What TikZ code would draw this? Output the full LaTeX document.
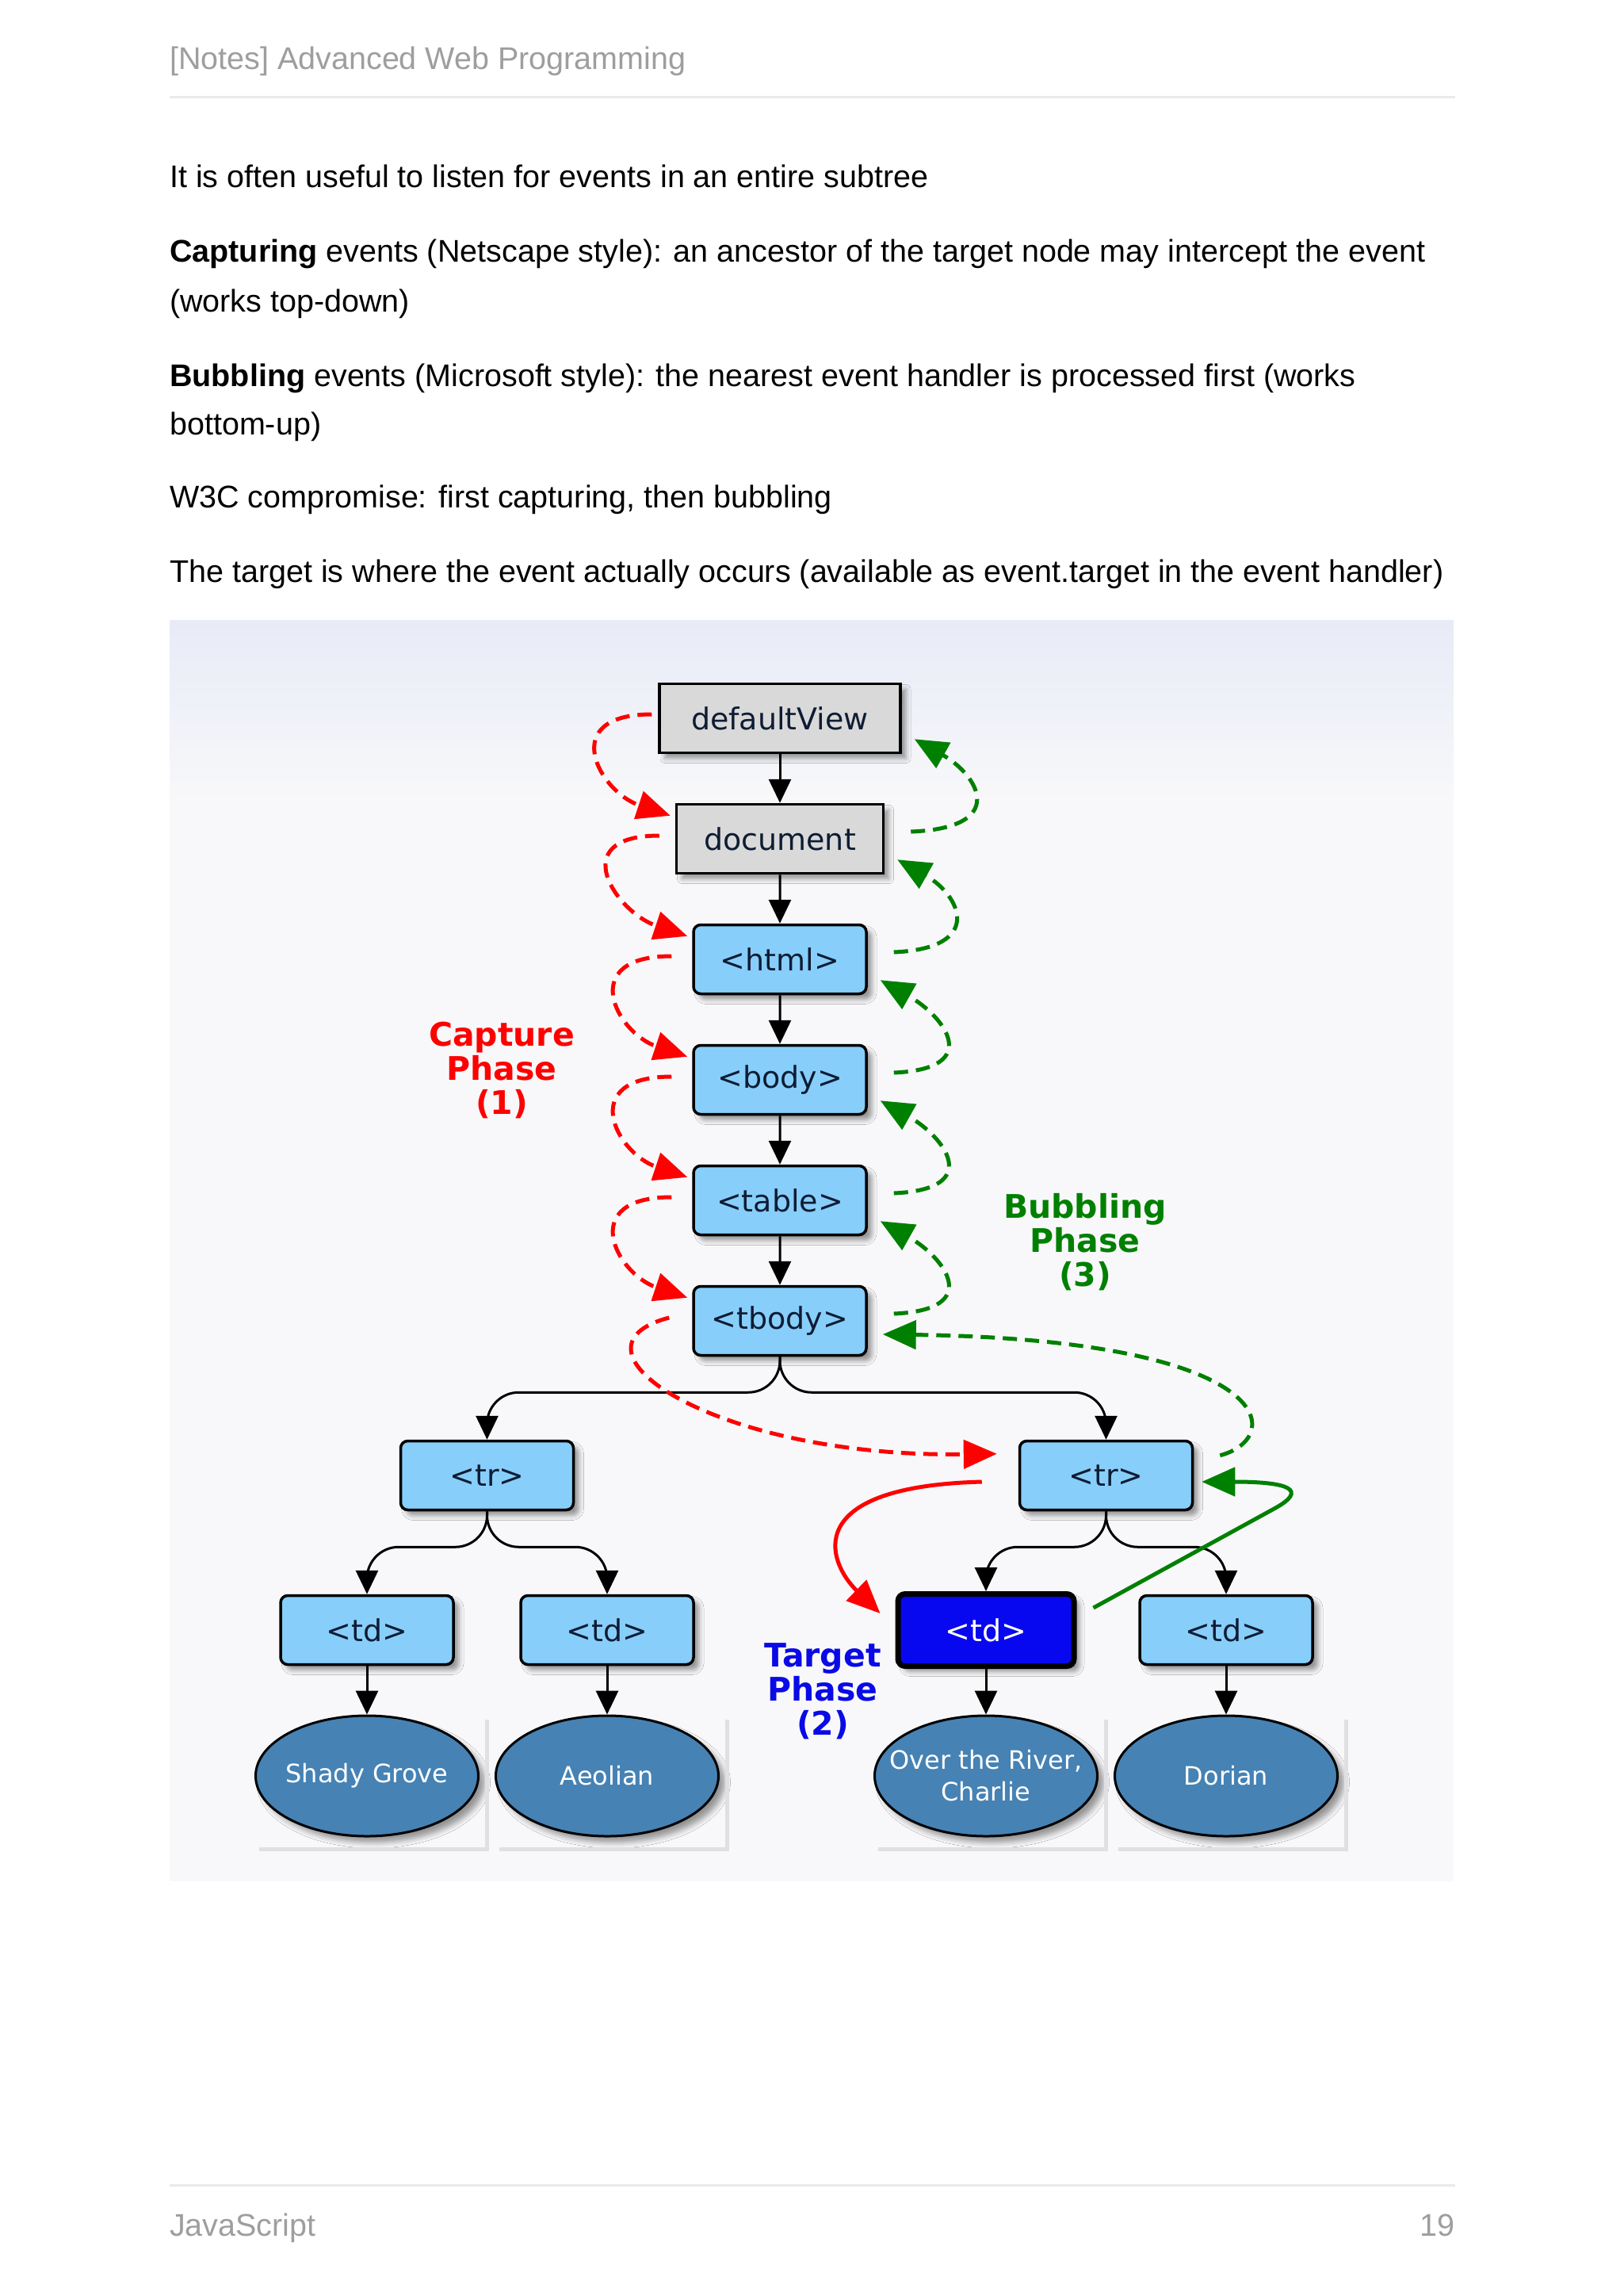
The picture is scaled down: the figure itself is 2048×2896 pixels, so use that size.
\documentclass[tikz,border=0pt]{standalone}
\usepackage{fontspec}
\setmainfont{Liberation Sans}
\newfontfamily\diagfont{DejaVu Sans}
\usetikzlibrary{positioning, calc, shapes.geometric, arrows.meta, shadows.blur}

\definecolor{headgray}{RGB}{158,158,158}
\definecolor{rulegray}{RGB}{234,234,237}
\definecolor{bgtop}{RGB}{232,235,247}
\definecolor{bgbottom}{RGB}{248,248,250}
\definecolor{docgray}{RGB}{217,217,217}
\definecolor{tagblue}{RGB}{135,206,250}
\definecolor{leafblue}{RGB}{70,130,180}
\definecolor{targetfill}{RGB}{8,8,240}
\definecolor{capred}{RGB}{255,0,0}
\definecolor{bubgreen}{RGB}{0,128,0}
\definecolor{targetblue}{RGB}{10,10,230}
\definecolor{inkblue}{RGB}{14,28,52}
\definecolor{framegray}{RGB}{224,224,228}

\newcommand{\bodysize}{\fontsize{39.5pt}{47pt}\selectfont}
\newcommand{\tagsize}{\diagfont\fontsize{38pt}{44pt}\selectfont}
\newcommand{\leafsize}{\diagfont\fontsize{32pt}{40pt}\selectfont}
\newcommand{\phasesize}{\diagfont\bfseries\fontsize{41pt}{43pt}\selectfont}

\begin{document}
\begin{tikzpicture}[
  x=1pt,
  y=-1pt,
  grow=down,
  level distance=152pt,
  pagetext/.style={
    anchor=base west,
    inner sep=0pt,
    font=\bodysize,
  },
  headtext/.style={pagetext, text=headgray},
  docbox/.style={
    rectangle,
    draw=black,
    line width=3.5pt,
    fill=docgray,
    minimum height=87pt,
    inner sep=0pt,
    font=\tagsize,
    text=inkblue,
    blur shadow={shadow xshift=7pt, shadow yshift=-7pt, shadow blur radius=6pt},
  },
  tagbox/.style={
    docbox,
    rounded corners=9pt,
    fill=tagblue,
    minimum width=218pt,
  },
  targetbox/.style={
    tagbox,
    line width=7pt,
    fill=targetfill,
    text=white,
    minimum width=222pt,
    minimum height=91pt,
  },
  leaf/.style={
    ellipse,
    draw=black,
    line width=3pt,
    fill=leafblue,
    align=center,
    inner xsep=-32pt,
    inner ysep=0pt,
    minimum width=281pt,
    minimum height=152pt,
    font=\leafsize,
    text=white,
    blur shadow={shadow xshift=8pt, shadow yshift=-8pt, shadow blur radius=7pt},
  },
  leafframe/.style={draw=framegray, line width=5pt},
  phase/.style={align=center, inner sep=0pt, font=\phasesize},
  capture/.style={
    draw=capred,
    line width=5pt,
    dash pattern=on 18pt off 10pt,
    -{Triangle[length=42pt, width=36pt]},
  },
  bubble/.style={capture, draw=bubgreen},
  edge from parent/.style={draw, line width=3pt, rounded corners=40pt, -{Triangle[length=30pt, width=28pt]}},
  bus/.style={edge from parent path={(\tikzparentnode.south) -- ++(0,45) -| (\tikzchildnode.north)}},
  level 6/.style={level distance=195pt, sibling distance=781pt, every child node/.style={xshift=21pt}, bus},
  level 7/.style={level distance=195pt, sibling distance=303pt, every child node/.style={}, bus},
  level 8/.style={level distance=184pt, edge from parent path={(\tikzparentnode.south) -- (\tikzchildnode.north)}},
]
\useasboundingbox (0,0) rectangle (2048,2896);
\fill[white] (0,0) rectangle (2048,2896);

% page text
\node[headtext] (header) at (214,88) {[Notes] Advanced Web Programming};
\draw[rulegray, line width=3pt] (214,122) -- (1836,122);
\node[pagetext] (intro) at (214,236) {It is often useful to listen for events in an entire subtree};
\node[pagetext] (capturing) at (214,330) {\textbf{Capturing} events (Netscape style): an ancestor of the target node may intercept the event};
\node[pagetext] (capturingb) at (214,393) {(works top-down)};
\node[pagetext] (bubbling) at (214,487) {\textbf{Bubbling} events (Microsoft style): the nearest event handler is processed first (works};
\node[pagetext] (bubblingb) at (214,548) {bottom-up)};
\node[pagetext] (wthree) at (214,640) {W3C compromise: first capturing, then bubbling};
\node[pagetext] (targetnote) at (214,734) {The target is where the event actually occurs (available as event.target in the event handler)};
\draw[rulegray, line width=3pt] (214,2756) -- (1836,2756);
\node[headtext] (footer) at (214,2820) {JavaScript};
\node[headtext, anchor=base east] (pageno) at (1836,2820) {19};

% figure background
\fill[bgbottom] (214,782) rectangle (1834,2373);
\fill[top color=bgtop, bottom color=bgbottom] (214,782) rectangle (1834,1010);

% DOM tree
\node[docbox, minimum width=304pt] (dv) at (984,906) {defaultView}
  child {node[docbox, minimum width=261pt] (doc) {document}
    child {node[tagbox] (html) {<html>}
      child {node[tagbox] (body) {<body>}
        child {node[tagbox] (table) {<table>}
          child {node[tagbox] (tbody) {<tbody>}
            child {node[tagbox] (tra) {<tr>}
              child {node[tagbox] (tda) {<td>}
                child {node[leaf] (shady) {Shady Grove}}
              }
              child {node[tagbox] (tdb) {<td>}
                child {node[leaf] (aeolian) {Aeolian}}
              }
            }
            child {node[tagbox] (trb) {<tr>}
              child {node[targetbox] (tdc) {<td>}
                child {node[leaf] (river) {Over the River,\\Charlie}}
              }
              child {node[tagbox] (tdd) {<td>}
                child {node[leaf] (dorian) {Dorian}}
              }
            }
          }
        }
      }
    }
  };

\foreach \leafname in {shady, aeolian, river, dorian}
  \draw[leafframe] ($(\leafname.west |- \leafname.south)+(6,15)$) -| ($(\leafname.east |- \leafname.north)+(9,6)$);

% capture phase
\draw[capture] ([shift={(-8,-5)}]dv.west) .. controls +(-120,0) and +(-90,-30) .. ([shift={(-6,16)}]doc.north west);
\draw[capture] ([shift={(-20,-4)}]doc.west) .. controls +(-120,0) and +(-90,-30) .. ([shift={(-6,16)}]html.north west);
\draw[capture] ([shift={(-26,-4)}]html.west) .. controls +(-120,0) and +(-90,-30) .. ([shift={(-6,16)}]body.north west);
\draw[capture] ([shift={(-26,-4)}]body.west) .. controls +(-120,0) and +(-90,-30) .. ([shift={(-6,16)}]table.north west);
\draw[capture] ([shift={(-26,-4)}]table.west) .. controls +(-120,0) and +(-90,-30) .. ([shift={(-6,16)}]tbody.north west);
\draw[capture] ([shift={(-29,-4)}]tbody.west) .. controls +(-145,38) and +(-360,5) .. ([shift={(-27,18)}]trb.north west);
\draw[capture, solid] ([shift={(-46,8)}]trb.west) .. controls +(-230,6) and +(-67,-65) .. ([shift={(-19,28)}]tdc.north west);

% bubbling phase
\draw[bubble, solid] ([shift={(21,21)}]tdc.north east) -- ++(228,-125) .. controls +(44,-24) and +(110,0) .. ([shift={(10,8)}]trb.east);
\draw[bubble] ([shift={(33,20)}]trb.north east) .. controls +(84,-22) and +(499,7) .. ([shift={(19,17)}]tbody.east);
\draw[bubble] ([shift={(33,-9)}]tbody.east) .. controls +(115,-5) and +(80,45) .. ([shift={(16,-19)}]table.south east);
\draw[bubble] ([shift={(33,-9)}]table.east) .. controls +(115,-5) and +(80,45) .. ([shift={(16,-19)}]body.south east);
\draw[bubble] ([shift={(33,-9)}]body.east) .. controls +(115,-5) and +(80,45) .. ([shift={(16,-19)}]html.south east);
\draw[bubble] ([shift={(33,-9)}]html.east) .. controls +(115,-5) and +(80,45) .. ([shift={(16,-19)}]doc.south east);
\draw[bubble] ([shift={(33,-9)}]doc.east) .. controls +(125,-5) and +(80,45) .. ([shift={(16,-19)}]dv.south east);

% phase labels
\node[phase, text=capred] (capturelbl) at (633,1350) {Capture\\Phase\\(1)};
\node[phase, text=bubgreen] (bubblelbl) at (1369,1567) {Bubbling\\Phase\\(3)};
\node[phase, text=targetblue] (targetlbl) at (1038,2133) {Target\\Phase\\(2)};
\end{tikzpicture}
\end{document}
